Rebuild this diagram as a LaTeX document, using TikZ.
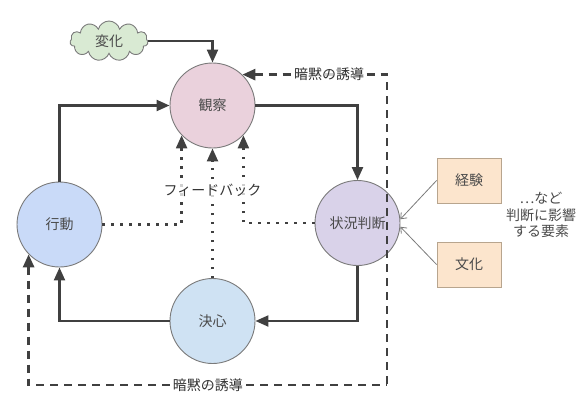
\documentclass[tikz,border=0pt]{standalone}
\usepackage{fontspec}
\setmainfont{Noto Sans CJK JP}
\usetikzlibrary{arrows.meta,shapes.symbols}
\definecolor{ink}{HTML}{404040}
\definecolor{txt}{HTML}{4A4A4A}
\definecolor{edge}{HTML}{7A7A7A}
\definecolor{cObs}{HTML}{EAD1DC}
\definecolor{cOri}{HTML}{D9D2E9}
\definecolor{cAct}{HTML}{C9DAF8}
\definecolor{cDec}{HTML}{CFE2F3}
\definecolor{cChg}{HTML}{D9EAD3}
\definecolor{cBox}{HTML}{FCE5CD}
\definecolor{cBoxE}{HTML}{B8A58E}
\tikzset{
  stage/.style={circle, draw=edge, line width=0.9pt, minimum size=85pt, inner sep=0pt, text=txt, font=\fontsize{14}{16}\selectfont},
  factor/.style={rectangle, draw=cBoxE, fill=cBox, line width=0.9pt, minimum width=64pt, minimum height=45pt, text=txt, font=\fontsize{14}{16}\selectfont},
  tip/.tip={Triangle[width=11pt,length=13pt]},
  flow/.style={draw=ink, line width=2.2pt, -tip},
  fb/.style={draw=ink, line width=2.3pt, dash pattern=on 2.3pt off 6.7pt, -tip},
  imp/.style={draw=ink, line width=2.6pt, dash pattern=on 8pt off 6pt},
  infl/.style={draw=edge, line width=0.8pt, -{Straight Barb[length=5pt,width=8pt]}},
  lbl/.style={fill=white, fill opacity=0.75, text opacity=1, text=black!80, inner sep=2pt, font=\fontsize{14}{16}\selectfont},
}
\begin{document}
\begin{tikzpicture}[x=1pt,y=-1pt]
\useasboundingbox (0,0) rectangle (586,407);
\node[stage, fill=cObs] (obs) at (212.5,105.5) {観察};
\node[stage, fill=cOri] (ori) at (357.5,223) {状況判断};
\node[stage, fill=cAct] (act) at (59.5,224.5) {行動};
\node[stage, fill=cDec] (dec) at (212.5,321) {決心};
\node[cloud, cloud puffs=11, aspect=2, draw=edge, fill=cChg, line width=0.9pt, minimum width=78pt, minimum height=40pt, inner sep=0pt, text=txt, font=\fontsize{14}{16}\selectfont] (chg) at (109,41) {変化};
\node[factor] (exp) at (469,180.5) {経験};
\node[factor] (cul) at (469,264.5) {文化};
\node[text=txt, align=center, font=\fontsize{14}{16.5}\selectfont] (note) at (541,215) {…など\\判断に影響\\する要素};
\coordinate (dr) at (387,385);
% main loop
\draw[flow] (chg.east) -| (obs.north);
\draw[flow] (act.north) |- (obs.west);
\draw[flow] (obs.east) -| (ori.north);
\draw[flow] (ori.south) |- (dec.east);
\draw[flow] (dec.west) -| (act.south);
% feedback
\draw[fb] (act.east) -| (obs.224);
\draw[fb] (ori.west) -| (obs.316);
\draw[fb] (dec.north) -- (obs.south) node[lbl, pos=0.68] {フィードバック};
% implicit guidance
\draw[imp, tip-] (act.224) |- (dr) node[lbl, pos=0.75] {暗黙の誘導};
\draw[imp, tip-] (obs.46) -| (dr) node[lbl, pos=0.3] {暗黙の誘導};
% influences
\draw[infl] (exp.west) -- (ori.5);
\draw[infl] (cul.west) -- (ori.-5);
\end{tikzpicture}
\end{document}
